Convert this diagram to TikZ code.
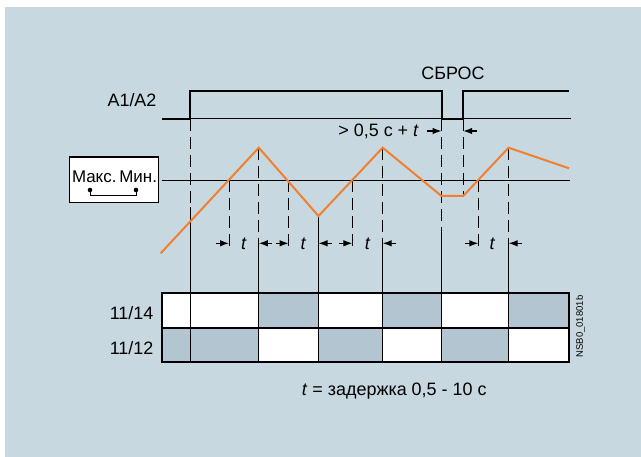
\documentclass[tikz,border=0pt]{standalone}
\usepackage{fontspec}
\setmainfont{Liberation Sans}
\usetikzlibrary{arrows.meta}
\definecolor{bgblue}{RGB}{200,216,224}
\definecolor{cellblue}{RGB}{178,197,209}
\definecolor{sigorange}{RGB}{240,128,48}
\begin{document}
\begin{tikzpicture}[x=1bp,y=-1bp,
  font=\fontsize{18}{21}\selectfont,
  thinline/.style={line width=1bp},
  dashline/.style={line width=1bp, dash pattern=on 12bp off 6bp},
  sigline/.style={line width=2bp, line join=miter},
  orangeline/.style={sigorange, line width=2bp, line join=miter},
  tarrow/.style={line width=1.1bp, -{Latex[length=9bp,width=6.5bp]}},
  label/.style={inner sep=0pt},
  shaded/.style={fill=cellblue},
  plain/.style={fill=white}]
\useasboundingbox (0,0) rectangle (641,457);
\fill[white] (0,0) rectangle (641,457);
\fill[bgblue] (5,7) rectangle (641,457);

% ---------- A1/A2 supply signal
\coordinate (s0) at (161.5,119);
\coordinate (s1) at (190,119);
\coordinate (s2) at (190,91);
\coordinate (s3) at (441.5,91);
\coordinate (s4) at (441.5,119);
\coordinate (s5) at (463.2,119);
\coordinate (s6) at (463.2,91);
\coordinate (s7) at (569,91);
\coordinate (base) at (571,119);
\draw[thinline] (s1) -- (base);
\draw[sigline] (s0) -- (s1) -- (s2) -- (s3) -- (s4) -- (s5) -- (s6) -- (s7);
\node[label, anchor=center] (a1a2) at (132,100) {A1/A2};
\node[label, anchor=center] (reset) at (453,73.5) {СБРОС};
\node[label, anchor=east] (resettime) at (419,131) {> 0,5 с + \textit{t}};
\coordinate (ra0) at (427,131);
\coordinate (ra1) at (441.5,131);
\coordinate (rb0) at (477,131);
\coordinate (rb1) at (463.2,131);
\draw[tarrow] (ra0) -- (ra1);
\draw[tarrow] (rb0) -- (rb1);

% ---------- Max/Min box and threshold line
\node[draw, line width=1.8bp, fill=white, minimum width=89bp, minimum height=45.5bp, inner sep=0pt] (box) at (114,179.8) {};
\node[label, font=\fontsize{17}{19}\selectfont] (maxmin) at (114.5,176.5) {Макс.\,Мин.};
\coordinate (d1) at (90,190);
\coordinate (d2) at (136,190);
\coordinate (d1b) at (90,196);
\coordinate (d2b) at (136,196);
\fill (d1) circle (2.3bp);
\fill (d2) circle (2.3bp);
\draw[thinline] (d1) -- (d1b) -- (d2b) -- (d2);
\coordinate (m0) at (161.7,180.3);
\coordinate (m1) at (570,180.3);
\draw[line width=1.3bp] (m0) -- (m1);

% ---------- vertical markers
% supply on
\draw[dashline] (190,119) -- (190,207);
\draw[thinline] (190,207) -- (190,362);
% crossing ticks (dashed)
\foreach \xx in {229,288.6,352.4,478.3}{
  \draw[dashline] (\xx,180.3) -- (\xx,252);
}
% peaks
\foreach \xx in {258.8,382.7,508.6}{
  \draw[dashline] (\xx,147.7) -- (\xx,238);
  \draw[thinline] (\xx,238) -- (\xx,362);
}
% valley
\draw[thinline] (318.5,216) -- (318.5,362);
% reset
\draw[dashline] (441.5,119) -- (441.5,233);
\draw[thinline] (441.5,233) -- (441.5,362);
\draw[dashline] (463.2,119) -- (463.2,196);

% ---------- measured value (orange)
\draw[orangeline] (160.7,253.3) -- (258.8,147.7) -- (318.5,216) -- (382.7,147.7)
  -- (441.5,196) -- (463.2,196) -- (508.6,147.7) -- (569,168.3);

% ---------- delay arrows
\draw[tarrow] (215.7,243.3) -- (229,243.3);
\node[label] (t1) at (244,243.3) {\textit{t}};
\draw[tarrow] (271.7,243.3) -- (258.8,243.3);
\draw[tarrow] (275.8,243.3) -- (288.6,243.3);
\node[label] (t2) at (303.3,243.3) {\textit{t}};
\draw[tarrow] (331.6,243.3) -- (318.5,243.3);
\draw[tarrow] (339.3,243.3) -- (352.4,243.3);
\node[label] (t3) at (367.7,243.3) {\textit{t}};
\draw[tarrow] (396.4,243.3) -- (382.7,243.3);
\draw[tarrow] (465,243.3) -- (478.3,243.3);
\node[label] (t4) at (492.5,243.3) {\textit{t}};
\draw[tarrow] (522,243.3) -- (508.6,243.3);

% ---------- contact table
\fill[plain] (161.5,293.3) rectangle (259,327.7);
\fill[shaded] (259,293.3) rectangle (318.5,327.7);
\fill[plain] (318.5,293.3) rectangle (382.7,327.7);
\fill[shaded] (382.7,293.3) rectangle (441.5,327.7);
\fill[plain] (441.5,293.3) rectangle (508.6,327.7);
\fill[shaded] (508.6,293.3) rectangle (569,327.7);
\fill[shaded] (161.5,327.7) rectangle (259,362.3);
\fill[plain] (259,327.7) rectangle (318.5,362.3);
\fill[shaded] (318.5,327.7) rectangle (382.7,362.3);
\fill[plain] (382.7,327.7) rectangle (441.5,362.3);
\fill[shaded] (441.5,327.7) rectangle (508.6,362.3);
\fill[plain] (508.6,327.7) rectangle (569,362.3);
\foreach \xx in {190,258.8,318.5,382.7,441.5,508.6}{
  \draw[thinline] (\xx,293.3) -- (\xx,362.3);
}
\draw[line width=1.6bp] (161.5,327.7) -- (569,327.7);
\draw[line width=2bp] (161.5,293.3) rectangle (569,362.3);
\node[label, anchor=east] (r1) at (153.5,312.7) {11/14};
\node[label, anchor=east] (r2) at (153.5,347.7) {11/12};
\node[label, rotate=90, font=\fontsize{9.5}{11}\selectfont] (code) at (580.5,326.5) {NSB0\_01801b};

% ---------- legend
\node[label, anchor=west] (legend) at (301.7,391) {\textit{t} = задержка 0,5 - 10 с};
\end{tikzpicture}
\end{document}
